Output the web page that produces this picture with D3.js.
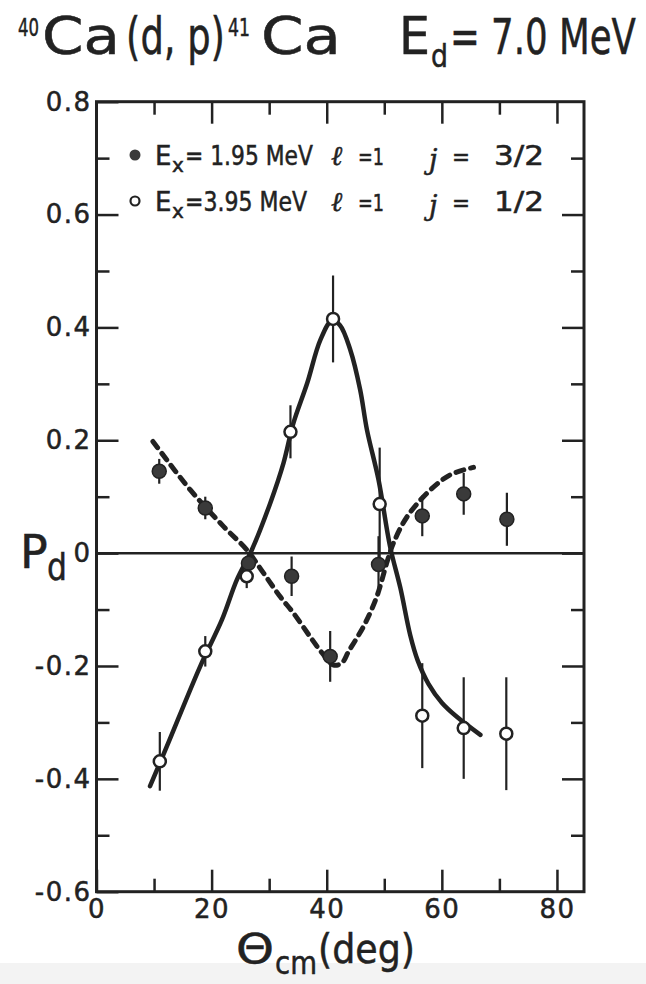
<!DOCTYPE html>
<html>
<head>
<meta charset="utf-8">
<script src="https://cdn.jsdelivr.net/npm/d3@7"></script>
<style>
  body { margin: 0; background: #fff; }
  svg { display: block; }
  text { font-family: 'DejaVu Sans', sans-serif; fill: #222; stroke: #222; stroke-width: 0.5px; }
</style>
</head>
<body>
<div id="chart"></div>
<script>
// Ex = 1.95 MeV, l=1, j=3/2 (filled)
var angles195 = [10.9, 18.9, 26.4, 33.9, 40.6, 49.0, 56.6, 63.8, 71.3];
var pd195 = [0.145, 0.080, -0.018, -0.041, -0.183, -0.020, 0.066, 0.105, 0.060];
var err195 = [0.022, 0.020, 0.020, 0.035, 0.045, 0.050, 0.036, 0.037, 0.047];

// Ex = 3.95 MeV, l=1, j=1/2 (open)
var angles395 = [11.0, 18.9, 26.1, 33.7, 41.1, 49.2, 56.6, 63.8, 71.2];
var pd395 = [-0.369, -0.174, -0.041, 0.215, 0.415, 0.087, -0.288, -0.310, -0.320];
var err395 = [0.052, 0.027, 0.021, 0.047, 0.077, 0.100, 0.093, 0.090, 0.100];

// hand drawn fit curves
var dashAngles = [9.8, 16.3, 22.1, 26.1, 29, 31.9, 34.2, 37.1, 39.2, 41.1, 42.6, 43.8, 45.2, 46.7, 48.7, 50.5, 51.6, 54, 58, 61.5, 65.5];
var dashPd = [0.198, 0.112, 0.047, 0.006, -0.035, -0.077, -0.106, -0.148, -0.177, -0.198, -0.195, -0.174, -0.151, -0.124, -0.077, -0.015, 0.018, 0.065, 0.112, 0.139, 0.152];
var solidAngles = [9.3, 12.2, 18, 21.8, 24.4, 27, 30.2, 32.5, 34.2, 36.6, 38.9, 40.9, 42.3, 44.1, 45.8, 47, 49, 51, 52.8, 54.5, 55.8, 57.7, 60, 62.6, 66.7];
var solidPd = [-0.413, -0.343, -0.201, -0.118, -0.047, 0.006, 0.089, 0.16, 0.23, 0.301, 0.378, 0.412, 0.404, 0.36, 0.29, 0.218, 0.13, 0.012, -0.062, -0.145, -0.19, -0.232, -0.265, -0.29, -0.322];

var xMajor = [0, 20, 40, 60, 80];
var xMinor = [10, 30, 50, 70];
var yMajor = [-0.6, -0.4, -0.2, 0, 0.2, 0.4, 0.6, 0.8];
var yMinor = [-0.5, -0.3, -0.1, 0.1, 0.3, 0.5, 0.7];

var W = 646, H = 984;
var svg = d3.select('#chart').append('svg')
  .attr('width', W).attr('height', H);

svg.append('rect').attr('x', 0).attr('y', 963).attr('width', W).attr('height', H - 963)
  .attr('fill', '#f3f3f3');

var x = d3.scaleLinear().domain([0, 84.7]).range([96.5, 584]);
var y = d3.scaleLinear().domain([-0.6, 0.8]).range([891.7, 101.7]);

var ink = '#222';
var fmt = d => d === 0 ? '0' : d.toFixed(1).replace('−', '-');

function styleAxis (g) {
  g.select('.domain').remove();
  g.selectAll('.tick line').attr('stroke', ink).attr('stroke-width', 2.5);
  g.selectAll('.tick text').style('font-size', '26px').attr('fill', ink)
    .style('letter-spacing', '1.5px');
}

// major + minor ticks, all pointing inward
svg.append('g').attr('transform', `translate(${x(0)},0)`)
  .call(d3.axisLeft(y).tickValues(yMajor).tickSizeInner(-22).tickSizeOuter(0).tickPadding(5).tickFormat(fmt))
  .call(styleAxis);
svg.append('g').attr('transform', `translate(${x(0)},0)`)
  .call(d3.axisLeft(y).tickValues(yMinor).tickSizeInner(-13).tickSizeOuter(0).tickFormat(''))
  .call(styleAxis);
svg.append('g').attr('transform', `translate(${x.range()[1]},0)`)
  .call(d3.axisRight(y).tickValues(yMajor.slice(1, -1)).tickSizeInner(-22).tickSizeOuter(0).tickFormat(''))
  .call(styleAxis);
svg.append('g').attr('transform', `translate(${x.range()[1]},0)`)
  .call(d3.axisRight(y).tickValues(yMinor).tickSizeInner(-13).tickSizeOuter(0).tickFormat(''))
  .call(styleAxis);
svg.append('g').attr('transform', `translate(0,${y(-0.6)})`)
  .call(d3.axisBottom(x).tickValues(xMajor).tickSizeInner(-22).tickSizeOuter(0).tickPadding(8))
  .call(styleAxis);
svg.append('g').attr('transform', `translate(0,${y(-0.6)})`)
  .call(d3.axisBottom(x).tickValues(xMinor).tickSizeInner(-13).tickSizeOuter(0).tickFormat(''))
  .call(styleAxis);
svg.append('g').attr('transform', `translate(0,${y(0.8)})`)
  .call(d3.axisTop(x).tickValues(xMajor.slice(1)).tickSizeInner(-22).tickSizeOuter(0).tickFormat(''))
  .call(styleAxis);
svg.append('g').attr('transform', `translate(0,${y(0.8)})`)
  .call(d3.axisTop(x).tickValues(xMinor).tickSizeInner(-13).tickSizeOuter(0).tickFormat(''))
  .call(styleAxis);

// frame and zero line
svg.append('rect')
  .attr('x', x(0)).attr('y', y(0.8))
  .attr('width', x.range()[1] - x(0)).attr('height', y(-0.6) - y(0.8))
  .attr('fill', 'none').attr('stroke', ink).attr('stroke-width', 3);
svg.append('line')
  .attr('x1', x(0)).attr('x2', x.range()[1]).attr('y1', y(0)).attr('y2', y(0))
  .attr('stroke', ink).attr('stroke-width', 2.5);

// fit curves
var line = d3.line()
  .x(d => x(d[0])).y(d => y(d[1]))
  .curve(d3.curveCatmullRom.alpha(0.5));

svg.append('path')
  .datum(solidAngles.map((a, i) => [a, solidPd[i]]))
  .attr('d', line).attr('fill', 'none').attr('stroke', ink)
  .attr('stroke-width', 4.5).attr('stroke-linecap', 'round');
svg.append('path')
  .datum(dashAngles.map((a, i) => [a, dashPd[i]]))
  .attr('d', line).attr('fill', 'none').attr('stroke', ink)
  .attr('stroke-width', 5).attr('stroke-dasharray', '8,7').attr('stroke-linecap', 'round');

// error bars
function drawErrors (angles, vals, errs) {
  svg.append('g').selectAll('line')
    .data(angles.map((a, i) => [a, vals[i], errs[i]]))
    .enter().append('line')
      .attr('x1', d => x(d[0])).attr('x2', d => x(d[0]))
      .attr('y1', d => y(d[1] + d[2])).attr('y2', d => y(d[1] - d[2]))
      .attr('stroke', ink).attr('stroke-width', 2.2);
}
drawErrors(angles195, pd195, err195);
drawErrors(angles395, pd395, err395);

svg.append('g').selectAll('circle')
  .data(angles195.map((a, i) => [a, pd195[i]]))
  .enter().append('circle')
    .attr('cx', d => x(d[0])).attr('cy', d => y(d[1])).attr('r', 7)
    .attr('fill', '#3a3a3a').attr('stroke', ink).attr('stroke-width', 1.5);
svg.append('g').selectAll('circle')
  .data(angles395.map((a, i) => [a, pd395[i]]))
  .enter().append('circle')
    .attr('cx', d => x(d[0])).attr('cy', d => y(d[1])).attr('r', 6)
    .attr('fill', '#fff').attr('stroke', ink).attr('stroke-width', 2.5);

// placed text piece, scaled horizontally to a given width if asked
function put (str, px, py, size, len, extra) {
  var t = svg.append('text').attr('x', 0).attr('y', 0).style('font-size', size + 'px').text(str);
  if (extra) extra(t);
  var sx = len ? len / t.node().getComputedTextLength() : 1;
  t.attr('transform', `translate(${px},${py}) scale(${sx},1)`);
  return t;
}
var serifItalic = t => t.style('font-family', 'DejaVu Serif').style('font-style', 'italic');

// legend
svg.append('circle').attr('cx', 135).attr('cy', 155).attr('r', 5.5).attr('fill', '#3a3a3a');
svg.append('circle').attr('cx', 135).attr('cy', 201).attr('r', 4.5).attr('fill', '#fff')
  .attr('stroke', ink).attr('stroke-width', 2.2);

function legendRow (yy, exText, exLen, jText) {
  put('E', 155, yy, 26);
  put('x', 172, yy + 7, 20);
  put(exText, 185, yy, 26, exLen);
  put('ℓ', 331, yy, 27, null, serifItalic);
  put('=1', 358, yy, 23, 26);
  put('j', 429, yy + 4, 27, null, serifItalic);
  put('=', 452, yy, 25, 18);
  put(jText, 494, yy, 26, 50);
}
legendRow(165, '= 1.95 MeV', 128, '3/2');
legendRow(211, '=3.95 MeV', 122, '1/2');

// y label
put('P', 20, 568, 46);
put('d', 47, 580, 38, 20);

// x label
put('Θ', 236, 963, 40, 38);
put('cm', 275, 974, 32, 42);
put('(deg)', 318, 963, 40, 97);

// title
put('40', 18, 36, 24, 21);
put('Ca', 42, 54, 51, 78);
put('(d, p)', 126, 54, 51, 99);
put('41', 228, 36, 24, 22);
put('Ca', 261, 54, 51, 80);
put('E', 399, 54, 51, 31);
put('d', 431, 67, 32, 17);
put('= 7.0 MeV', 450, 54, 50, 186);
</script>
</body>
</html>
